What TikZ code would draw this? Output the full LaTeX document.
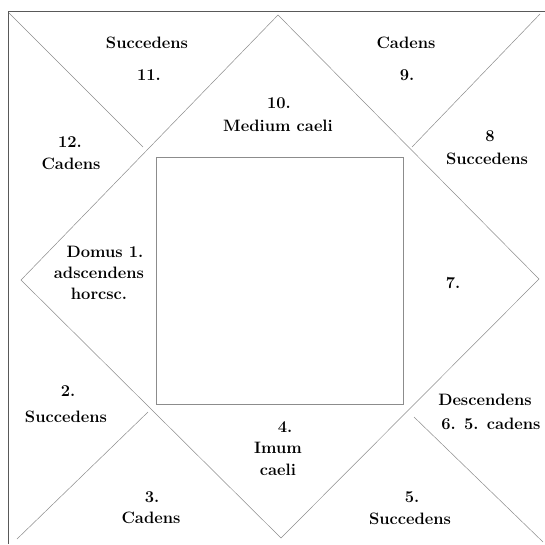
\documentclass[tikz,border=0pt]{standalone}
\usepackage{fontspec}
\usepackage{tikz}
\usetikzlibrary{positioning}

\begin{document}
\begin{tikzpicture}[
  x=1pt,y=-1pt,
  font=\fontsize{16.5}{20}\selectfont\bfseries,
  house/.style={align=center,inner sep=1pt},
  rule/.style={draw=black!65,line width=0.55pt},
  faint/.style={draw=black!45,line width=0.5pt}
]
\useasboundingbox (0,0) rectangle (545,544);
% frame (only top and left edges survive)
\coordinate (tl) at (8,11);
\coordinate (tr) at (545,11);
\coordinate (bl) at (8,544);
\draw[rule] (tr) -- (tl) -- (bl);
% diamond
\coordinate (dt) at (278,15);
\coordinate (dr) at (539,279);
\coordinate (db) at (281,538);
\coordinate (dl) at (21,280);
\draw[faint] (dt) -- (dr) -- (db) -- (dl) -- cycle;
% inner square
\coordinate (q1) at (156,157);
\coordinate (q2) at (403,404);
\draw[faint] (q1) rectangle (q2);
% diagonals
\coordinate (a1) at (9,13);    \coordinate (a2) at (143,147);
\coordinate (b1) at (540,14);  \coordinate (b2) at (412,147);
\coordinate (c1) at (17,539);  \coordinate (c2) at (148,412);
\coordinate (e1) at (414,417); \coordinate (e2) at (543,542);
\draw[faint] (a1) -- (a2);
\draw[faint] (b1) -- (b2);
\draw[faint] (c1) -- (c2);
\draw[faint] (e1) -- (e2);
% houses
\node[house] (h11a) at (147,43)  {Succedens};
\node[house] (h11b) at (149,75)  {11.};
\node[house] (h9a)  at (406,43)  {Cadens};
\node[house] (h9b)  at (407,75)  {9.};
\node[house] (h10a) at (279,103) {10.};
\node[house] (h10b) at (278,126) {Medium caeli};
\node[house] (h12a) at (70,142)  {12.};
\node[house] (h12b) at (71,164)  {Cadens};
\node[house] (h8a)  at (490,136) {8};
\node[house] (h8b)  at (487,159) {Succedens};
\node[house] (h1a)  at (105,252) {Domus 1.};
\node[house] (h1b)  at (99,273)  {adscendens};
\node[house] (h1c)  at (99,294)  {horcsc.};
\node[house] (h7)   at (453,283) {7.};
\node[house] (h2a)  at (68,391)  {2.};
\node[house] (h2b)  at (66,417)  {Succedens};
\node[house] (h4a)  at (285,427) {4.};
\node[house] (h4b)  at (278,448) {Imum};
\node[house] (h4c)  at (278,470) {caeli};
\node[house] (h6a)  at (485,400) {Descendens};
\node[house] (h6b)  at (491,424) {6. 5. cadens};
\node[house] (h3a)  at (152,497) {3.};
\node[house] (h3b)  at (151,518) {Cadens};
\node[house] (h5a)  at (412,497) {5.};
\node[house] (h5b)  at (410,519) {Succedens};
\end{tikzpicture}
\end{document}
